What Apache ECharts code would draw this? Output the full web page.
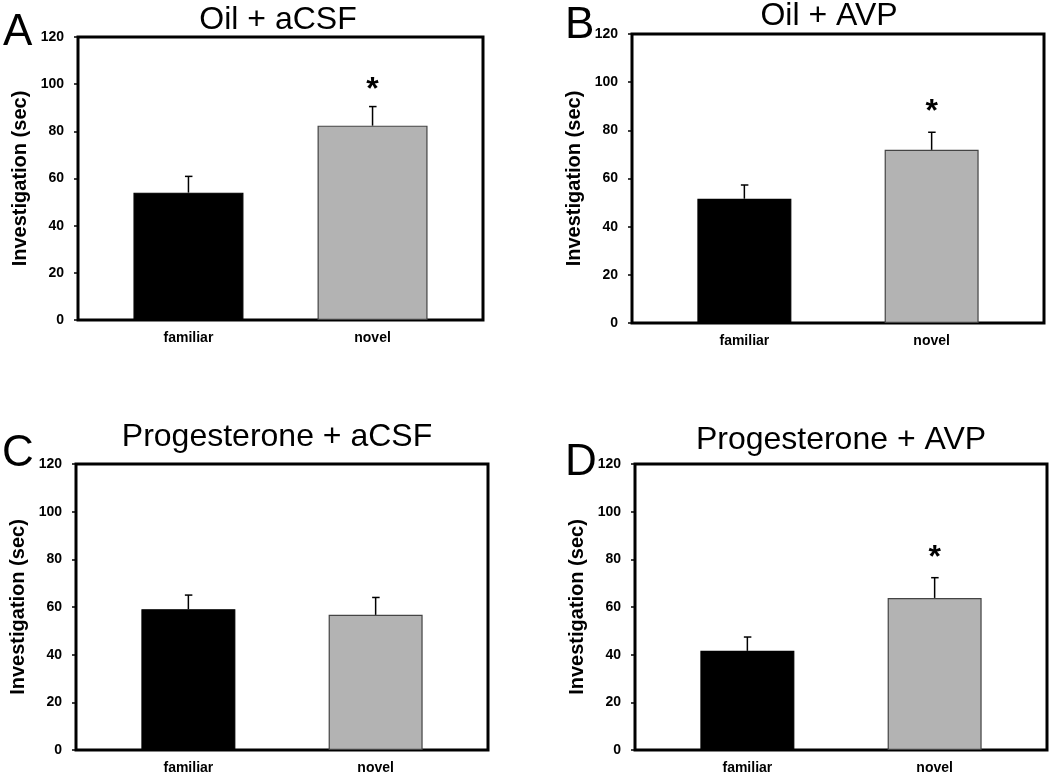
<!DOCTYPE html>
<html>
<head>
<meta charset="utf-8">
<script src="https://cdn.jsdelivr.net/npm/echarts@6/dist/echarts.min.js"></script>
<style>
html,body{margin:0;padding:0;background:#fff;}
#chart{width:1050px;height:775px;}
</style>
</head>
<body>
<div id="chart"></div>
<script>
// ---- data ----
const categories = ['familiar', 'novel'];
const panelLetters = ['A', 'B', 'C', 'D'];
const panelTitles = ['Oil + aCSF', 'Oil + AVP', 'Progesterone + aCSF', 'Progesterone + AVP'];
const yTicks = [0, 20, 40, 60, 80, 100, 120];
const yAxisName = 'Investigation (sec)';

const meansA = [54.0, 82.4];
const semA   = [6.9, 8.1];
const meansB = [51.6, 71.9];
const semB   = [5.7, 7.3];
const meansC = [59.1, 56.7];
const semC   = [5.9, 7.3];
const meansD = [41.6, 63.8];
const semD   = [5.8, 8.5];
// significance asterisk height (value units), null = none
const sigA = [null, 100];
const sigB = [null, 90];
const sigC = [null, null];
const sigD = [null, 83];

const panelMeans = [meansA, meansB, meansC, meansD];
const panelSems = [semA, semB, semC, semD];
const panelSigs = [sigA, sigB, sigC, sigD];

// ---- layout ----
const FONT = "'Liberation Sans', Arial, sans-serif";
const grids = [
  {left: 78, top: 37, width: 405, height: 283},
  {left: 632, top: 34, width: 412, height: 289},
  {left: 76, top: 464, width: 412, height: 288},
  {left: 635, top: 464, width: 412, height: 288}
];
const barWidths = [110, 94, 94, 94];
const letterPos = [[3, 11], [565, 4], [2, 432], [565, 441]];
const titlePos = [[278, 20], [829, 16], [277, 437], [841, 440]];
const barColors = ['#000000', '#b3b3b3'];
const barBorders = ['#000000', '#444444'];

const chart = echarts.init(document.getElementById('chart'), null, {renderer: 'canvas'});

const gridOpts = grids.map(g => Object.assign({}, g, {
  show: true, borderColor: '#000', borderWidth: 3, backgroundColor: 'transparent', containLabel: false
}));

const xAxes = grids.map((g, i) => ({
  gridIndex: i, type: 'value', min: -0.6, max: 1.6,
  axisLine: {show: false, onZero: false}, axisTick: {show: false}, splitLine: {show: false},
  axisLabel: {
    customValues: [0, 1],
    formatter: v => (Math.abs(v - Math.round(v)) < 1e-6 && categories[Math.round(v)]) ? categories[Math.round(v)] : '',
    fontSize: 14, fontWeight: 'bold', color: '#000', fontFamily: FONT, margin: 11
  }
}));

const yAxes = grids.map((g, i) => ({
  gridIndex: i, type: 'value', min: yTicks[0], max: yTicks[yTicks.length - 1], interval: yTicks[1] - yTicks[0],
  axisLine: {show: false, onZero: false}, splitLine: {show: false},
  axisTick: {show: true, inside: false, length: 4, lineStyle: {color: '#000', width: 1.5}},
  axisLabel: {fontSize: 14, fontWeight: 'bold', color: '#000', fontFamily: FONT, margin: 14},
  name: yAxisName, nameLocation: 'middle', nameGap: 48,
  nameTextStyle: {fontSize: 20, fontWeight: 'bold', color: '#000', fontFamily: FONT}
}));

const series = [];
panelMeans.forEach((means, i) => {
  series.push({
    type: 'bar', xAxisIndex: i, yAxisIndex: i, barWidth: barWidths[i],
    data: means.map((m, j) => ({
      value: [j, m],
      itemStyle: {color: barColors[j], borderColor: barBorders[j], borderWidth: 1.2}
    })),
    silent: true
  });
  series.push({
    type: 'custom', xAxisIndex: i, yAxisIndex: i, z: 3, silent: true,
    data: means.map((m, j) => [j, m, panelSems[i][j]]),
    renderItem: (params, api) => {
      const x = api.value(0), m = api.value(1), e = api.value(2);
      const p0 = api.coord([x, m]);
      const p1 = api.coord([x, m + e]);
      const st = {stroke: '#000', lineWidth: 1.5};
      return {
        type: 'group', children: [
          {type: 'line', shape: {x1: p0[0], y1: p0[1], x2: p1[0], y2: p1[1]}, style: st},
          {type: 'line', shape: {x1: p1[0] - 3.5, y1: p1[1], x2: p1[0] + 4, y2: p1[1]}, style: st}
        ]
      };
    }
  });
  const sigData = panelSigs[i].map((s, j) => s == null ? null : [j, s]).filter(d => d);
  if (sigData.length) {
    series.push({
      type: 'custom', xAxisIndex: i, yAxisIndex: i, z: 4, silent: true,
      data: sigData,
      renderItem: (params, api) => {
        const p = api.coord([api.value(0), api.value(1)]);
        return {
          type: 'text', x: p[0], y: p[1] + 6,
          style: {text: '*', fontSize: 32, fontWeight: 'bold', fontFamily: FONT, fill: '#000',
                  textAlign: 'center', textVerticalAlign: 'middle'}
        };
      }
    });
  }
});

const graphics = [];
panelLetters.forEach((L, i) => {
  graphics.push({
    type: 'text', left: letterPos[i][0], top: letterPos[i][1],
    style: {text: L, fontSize: 44, fontFamily: FONT, fill: '#000'}
  });
  graphics.push({
    type: 'text', x: titlePos[i][0], y: titlePos[i][1],
    style: {text: panelTitles[i], fontSize: 32, fontFamily: FONT, fill: '#000',
            textAlign: 'center', textVerticalAlign: 'middle'}
  });
});

chart.setOption({
  animation: false,
  backgroundColor: '#fff',
  grid: gridOpts,
  xAxis: xAxes,
  yAxis: yAxes,
  series: series,
  graphic: graphics
});
</script>
</body>
</html>
